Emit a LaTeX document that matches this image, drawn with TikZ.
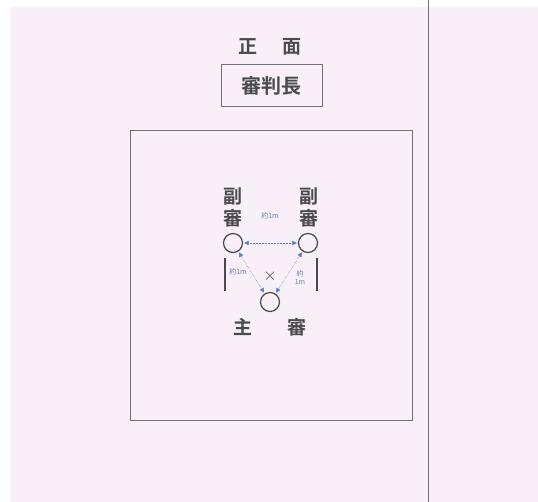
\documentclass[tikz,border=0pt]{standalone}
\usepackage{fontspec}
\newfontfamily\cjk{Noto Sans CJK JP}[UprightFont=* Bold]
\newfontfamily\cjkl{Noto Sans CJK JP}
\usetikzlibrary{arrows.meta}
\definecolor{bgpink}{HTML}{F8EFF8}
\definecolor{ink}{HTML}{4A4A4E}
\definecolor{frame}{HTML}{707078}
\definecolor{arrowblue}{HTML}{5A84C4}
\definecolor{lblue}{HTML}{6E80B0}
\tikzset{
  cjktext/.style={font=\cjk\fontsize{19}{19}\selectfont, text=ink, inner sep=0pt},
  smalllbl/.style={font=\cjkl\fontsize{7}{8}\selectfont, text=lblue, inner sep=0pt, align=center},
  ref/.style={circle, draw=ink, line width=1.2pt, minimum size=19pt, inner sep=0pt},
  dist/.style={draw=arrowblue, line width=0.5pt, densely dotted, {Triangle[length=4.5pt,width=4.5pt]}-{Triangle[length=4.5pt,width=4.5pt]}, shorten <=1pt, shorten >=1pt},
  bar/.style={draw=ink, line width=2.4pt},
}
\begin{document}
\begin{tikzpicture}[x=1pt,y=-1pt]
\useasboundingbox (0,0) rectangle (538,502);
\fill[white] (0,0) rectangle (538,502);
\fill[bgpink] (10,7) rectangle (538,502);
\draw[frame, line width=1pt] (428,0) -- (428,502);
% front
\node[cjktext] (sh1) at (248,47) {正};
\node[cjktext] (sh2) at (292,47) {面};
\node[draw=frame, line width=0.9pt, minimum width=101pt, minimum height=42pt, inner sep=0pt] (chiefbox) at (271.5,85) {};
\node[cjktext, font=\cjk\fontsize{20}{20}\selectfont] (chief) at (271.5,86) {審判長};
% court
\node[draw=frame, line width=0.9pt, minimum width=282pt, minimum height=290pt, inner sep=0pt] (court) at (271,275) {};
% assistant referees
\node[cjktext] (lf1) at (233,196) {副};
\node[cjktext] (lf2) at (233,218) {審};
\node[cjktext] (rf1) at (309,196) {副};
\node[cjktext] (rf2) at (309,218) {審};
\node[ref] (L) at (233,243) {};
\node[ref] (R) at (308,243) {};
\node[ref] (M) at (270,302) {};
\draw[bar] (225,258) -- (225,291);
\draw[bar] (317,258) -- (317,291);
\node[font=\fontsize{17}{17}\selectfont, text=ink, inner sep=0pt] (cross) at (270,276) {$\times$};
% distances
\draw[dist] (L) -- (R);
\draw[dist] (L) -- (M);
\draw[dist] (R) -- (M);
\node[smalllbl] (d1) at (270,216) {約1m};
\node[smalllbl] (d2) at (238,272) {約1m};
\node[smalllbl] (d3) at (300,278) {約\\1m};
% main referee
\node[cjktext] (m1) at (243,327) {主};
\node[cjktext] (m2) at (297,327) {審};
\end{tikzpicture}
\end{document}
